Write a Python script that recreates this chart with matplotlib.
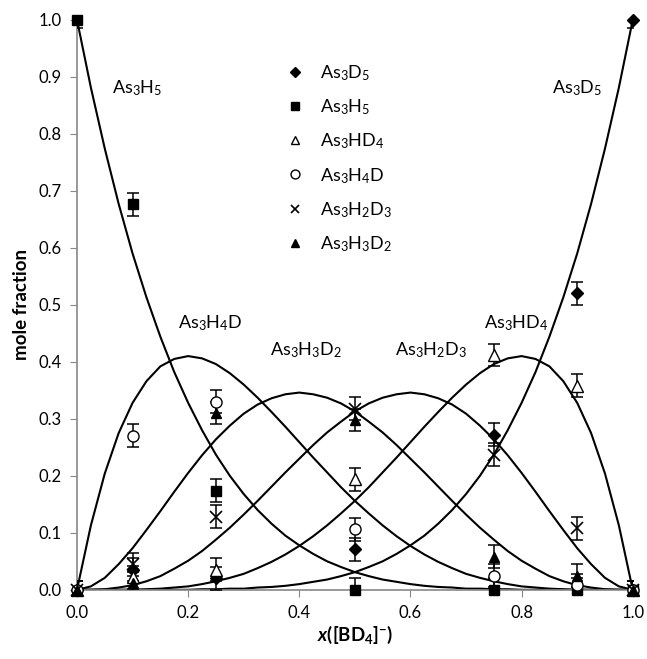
import numpy as np
import matplotlib
matplotlib.use('Agg')
import matplotlib.pyplot as plt
from matplotlib.lines import Line2D

# 理論曲線 (0.025刻みで図から読み取り)
x_fit = np.linspace(0, 1, 41)
fit_H5 = [1.000, 0.881, 0.774, 0.677, 0.590, 0.513, 0.444, 0.382, 0.328, 0.280, 0.237,
          0.200, 0.168, 0.140, 0.116, 0.095, 0.078, 0.063, 0.050, 0.040, 0.031,
          0.024, 0.018, 0.014, 0.010, 0.007, 0.005, 0.004, 0.002, 0.002, 0.001,
          0.001, 0.000, 0.000, 0.000, 0.000, 0.000, 0.000, 0.000, 0.000, 0.000]
fit_H4D = [0.000, 0.113, 0.204, 0.275, 0.328, 0.366, 0.392, 0.405, 0.410, 0.406, 0.396,
           0.380, 0.360, 0.337, 0.312, 0.286, 0.259, 0.232, 0.206, 0.180, 0.156,
           0.134, 0.113, 0.094, 0.077, 0.062, 0.049, 0.038, 0.028, 0.021, 0.015,
           0.010, 0.006, 0.004, 0.002, 0.001, 0.000, 0.000, 0.000, 0.000, 0.000]
fit_H3D2 = [0.000, 0.006, 0.021, 0.045, 0.073, 0.105, 0.138, 0.172, 0.205, 0.236, 0.264,
            0.288, 0.309, 0.325, 0.336, 0.343, 0.346, 0.343, 0.337, 0.327, 0.313,
            0.295, 0.276, 0.254, 0.230, 0.206, 0.181, 0.156, 0.132, 0.109, 0.088,
            0.068, 0.051, 0.037, 0.024, 0.015, 0.008, 0.004, 0.001, 0.000, 0.000]
fit_H2D3 = [0.000, 0.000, 0.001, 0.004, 0.008, 0.015, 0.024, 0.037, 0.051, 0.068, 0.088,
            0.109, 0.132, 0.156, 0.181, 0.206, 0.230, 0.254, 0.276, 0.295, 0.313,
            0.327, 0.337, 0.343, 0.346, 0.343, 0.336, 0.325, 0.309, 0.288, 0.264,
            0.236, 0.205, 0.172, 0.138, 0.105, 0.073, 0.045, 0.021, 0.006, 0.000]
fit_HD4 = [0.000, 0.000, 0.000, 0.000, 0.000, 0.001, 0.002, 0.004, 0.006, 0.010, 0.015,
           0.021, 0.028, 0.038, 0.049, 0.062, 0.077, 0.094, 0.113, 0.134, 0.156,
           0.180, 0.206, 0.232, 0.259, 0.286, 0.312, 0.337, 0.360, 0.380, 0.396,
           0.406, 0.410, 0.405, 0.392, 0.366, 0.328, 0.275, 0.204, 0.113, 0.000]
fit_D5 = [0.000, 0.000, 0.000, 0.000, 0.000, 0.000, 0.000, 0.000, 0.000, 0.001, 0.001,
          0.002, 0.002, 0.004, 0.005, 0.007, 0.010, 0.014, 0.018, 0.024, 0.031,
          0.040, 0.050, 0.063, 0.078, 0.095, 0.116, 0.140, 0.168, 0.200, 0.237,
          0.280, 0.328, 0.382, 0.444, 0.513, 0.590, 0.677, 0.774, 0.881, 1.000]

# 実測値
x_exp = [0.0, 0.1, 0.25, 0.5, 0.75, 0.9, 1.0]
exp_D5 = [0.0, 0.035, 0.020, 0.071, 0.272, 0.520, 1.0]
exp_H5 = [1.0, 0.676, 0.174, 0.0, 0.0, 0.0, 0.0]
exp_HD4 = [0.0, 0.022, 0.035, 0.194, 0.412, 0.358, 0.0]
exp_H4D = [0.0, 0.270, 0.330, 0.106, 0.025, 0.008, 0.0]
exp_H2D3 = [0.0, 0.045, 0.128, 0.318, 0.237, 0.108, 0.0]
exp_H3D2 = [0.0, 0.012, 0.310, 0.298, 0.058, 0.025, 0.0]
err = [0.015, 0.02, 0.02, 0.02, 0.02, 0.02, 0.015]

# フォント設定
plt.rcParams['font.family'] = 'Lato'
plt.rcParams['mathtext.fontset'] = 'custom'
plt.rcParams['mathtext.rm'] = 'Lato'
plt.rcParams['mathtext.it'] = 'Lato:italic'
plt.rcParams['mathtext.bf'] = 'Lato:bold'
plt.rcParams['mathtext.bfit'] = 'Lato:bold:italic'
plt.rcParams['xtick.direction'] = 'out'
plt.rcParams['ytick.direction'] = 'out'

fig = plt.figure(figsize=(6.47, 6.59), dpi=100)
ax = fig.add_axes([0.119, 0.105, 0.859, 0.865])

for f in [fit_H5, fit_H4D, fit_H3D2, fit_H2D3, fit_HD4, fit_D5]:
    ax.plot(x_fit, f, color='black', lw=1.5, zorder=2)

series = [
    ('As$_3$D$_5$', exp_D5, dict(marker='D', ms=6, mfc='black', mec='black')),
    ('As$_3$H$_5$', exp_H5, dict(marker='s', ms=7, mfc='black', mec='black')),
    ('As$_3$HD$_4$', exp_HD4, dict(marker='^', ms=8, mfc='white', mec='black', mew=1)),
    ('As$_3$H$_4$D', exp_H4D, dict(marker='o', ms=8, mfc='white', mec='black', mew=1)),
    ('As$_3$H$_2$D$_3$', exp_H2D3, dict(marker='x', ms=8, mec='black', mew=1.2)),
    ('As$_3$H$_3$D$_2$', exp_H3D2, dict(marker='^', ms=7, mfc='black', mec='black')),
]

handles = []
for label, y, style in series:
    ax.errorbar(x_exp, y, yerr=err, fmt='none', ecolor='black', elinewidth=1.1,
                capsize=4, capthick=1.1, zorder=3)
    ax.plot(x_exp, y, ls='none', zorder=4, clip_on=False, **style)
    handles.append(Line2D([], [], ls='none', label=label, **style))

ax.legend(handles=handles, loc='upper left', bbox_to_anchor=(0.33, 0.952), frameon=False,
          fontsize=13, handletextpad=0.4, labelspacing=0.8, markerscale=0.8)

# 曲線ラベル
ax.text(0.108, 0.88, 'As$_3$H$_5$', ha='center', va='center', fontsize=13)
ax.text(0.900, 0.88, 'As$_3$D$_5$', ha='center', va='center', fontsize=13)
ax.text(0.240, 0.467, 'As$_3$H$_4$D', ha='center', va='center', fontsize=13)
ax.text(0.412, 0.420, 'As$_3$H$_3$D$_2$', ha='center', va='center', fontsize=13)
ax.text(0.637, 0.420, 'As$_3$H$_2$D$_3$', ha='center', va='center', fontsize=13)
ax.text(0.790, 0.467, 'As$_3$HD$_4$', ha='center', va='center', fontsize=13)

ax.set_xlim(0, 1)
ax.set_ylim(0, 1)
ax.set_xticks(np.arange(0, 1.01, 0.2))
ax.set_yticks(np.arange(0, 1.01, 0.1))
ax.xaxis.set_major_formatter(matplotlib.ticker.FormatStrFormatter('%.1f'))
ax.yaxis.set_major_formatter(matplotlib.ticker.FormatStrFormatter('%.1f'))
ax.tick_params(labelsize=12, color='#888888', length=5, pad=6)

for s in ['top', 'right']:
    ax.spines[s].set_visible(False)
for s in ['left', 'bottom']:
    ax.spines[s].set_color('#888888')
    ax.spines[s].set_linewidth(1.2)

ax.set_xlabel(r'$\mathbfit{x}$([BD$_\mathbf{4}$]$^\mathbf{-}$)', fontsize=13.5,
              fontweight='bold', labelpad=2)
ax.set_ylabel('mole fraction', fontsize=13.5, fontweight='bold', labelpad=6)

fig.savefig('out.png', dpi=100)
plt.close()
